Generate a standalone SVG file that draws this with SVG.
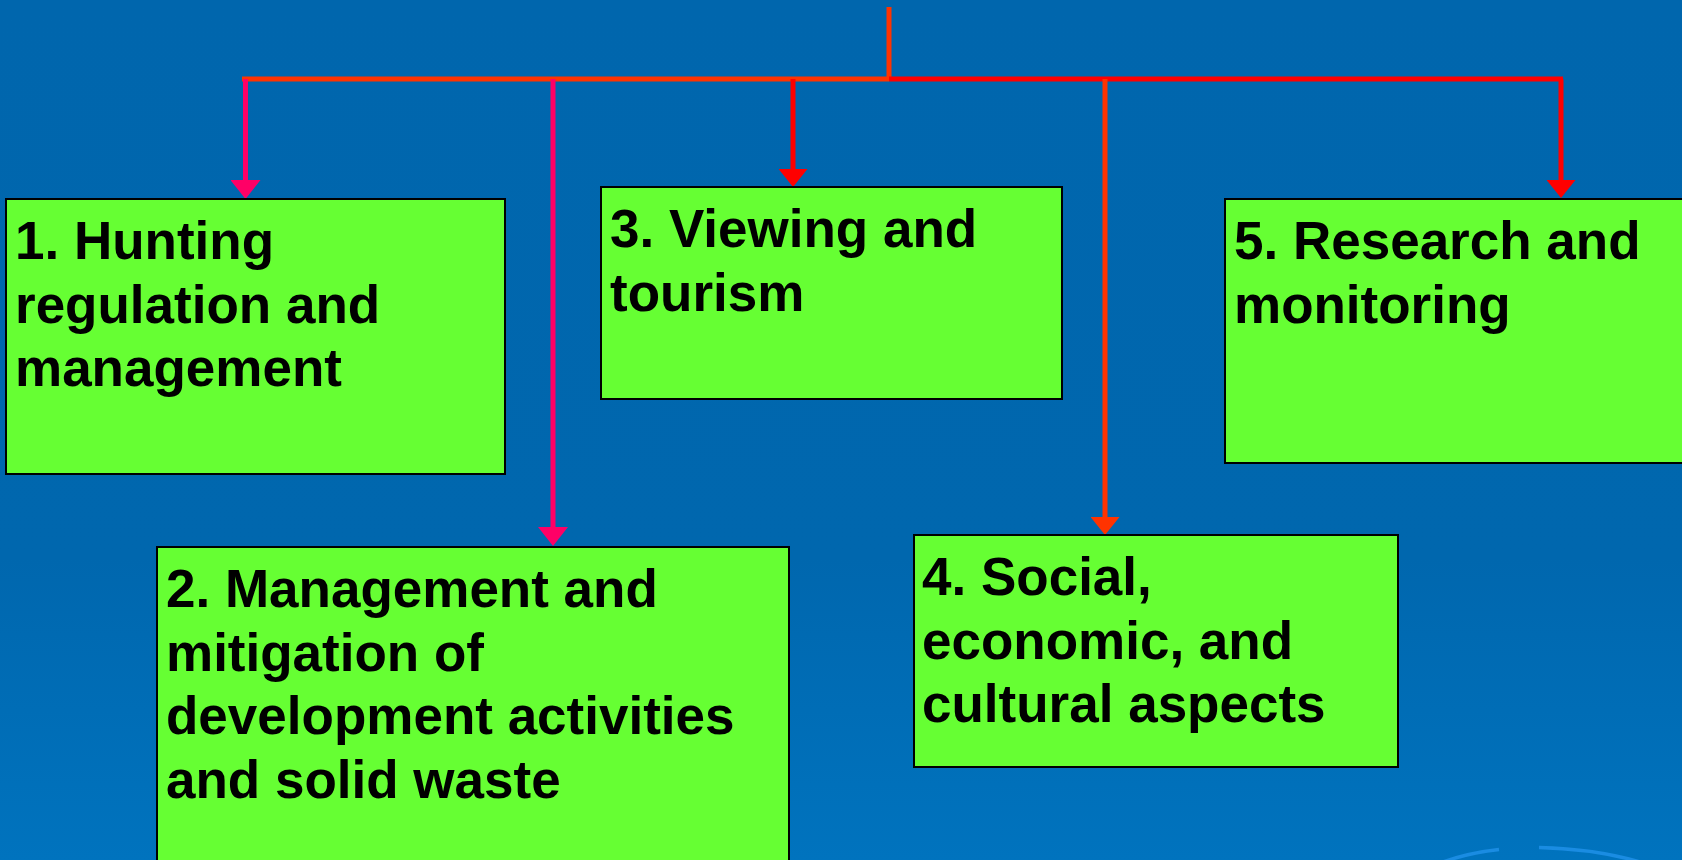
<svg xmlns="http://www.w3.org/2000/svg" width="1682" height="860" viewBox="0 0 1682 860">
  <defs>
    <linearGradient id="bg" x1="0" y1="0" x2="0" y2="1">
      <stop offset="0" stop-color="#0066AD"/>
      <stop offset="0.65" stop-color="#0067AE"/>
      <stop offset="1" stop-color="#0073BE"/>
    </linearGradient>
    <marker id="ah-pink" markerUnits="userSpaceOnUse" viewBox="0 0 19 30" refX="9" refY="15" markerWidth="19" markerHeight="30" orient="auto">
      <path d="M0,0 L19,15 L0,30 Z" fill="#FF0066"/>
    </marker>
    <marker id="ah-red" markerUnits="userSpaceOnUse" viewBox="0 0 18 29" refX="8" refY="14.5" markerWidth="18" markerHeight="29" orient="auto">
      <path d="M0,0 L18,14.5 L0,29 Z" fill="#FF0000"/>
    </marker>
    <marker id="ah-orange" markerUnits="userSpaceOnUse" viewBox="0 0 18 29" refX="8" refY="14.5" markerWidth="18" markerHeight="29" orient="auto">
      <path d="M0,0 L18,14.5 L0,29 Z" fill="#FF3300"/>
    </marker>
  </defs>
  <style>
    .box { fill: #66FF33; stroke: #000000; stroke-width: 2; }
    .lbl { font-family: "Liberation Sans", Arial, sans-serif; font-weight: bold; font-size: 53px; fill: #000000; }
    .c { fill: none; stroke-width: 5; stroke-linecap: butt; }
    .pink { stroke: #FF0066; }
    .red { stroke: #FF0000; }
    .orange { stroke: #FF3300; }
    .deco { fill: none; stroke: #1A8CE2; stroke-width: 3.5; }
  </style>

  <rect x="0" y="0" width="1682" height="860" fill="url(#bg)"/>
  <path class="deco" d="M1443,862 Q1468,853 1499,849.5"/>
  <path class="deco" d="M1539,847.5 Q1596,849 1640,862"/>

  <g id="connectors">
    <line class="c orange" x1="889" y1="7" x2="889" y2="79" stroke-width="4.5"/>
    <line class="c orange" x1="242" y1="79" x2="889" y2="79"/>
    <line class="c red" x1="889" y1="79" x2="1563" y2="79"/>
    <line class="c pink" x1="245.5" y1="79" x2="245.5" y2="189" marker-end="url(#ah-pink)"/>
    <line class="c pink" x1="553" y1="79" x2="553" y2="536" marker-end="url(#ah-pink)"/>
    <line class="c red" x1="793" y1="79" x2="793" y2="177" marker-end="url(#ah-red)"/>
    <line class="c orange" x1="1105" y1="79" x2="1105" y2="525" marker-end="url(#ah-orange)"/>
    <line class="c red" x1="1561" y1="79" x2="1561" y2="188" marker-end="url(#ah-red)"/>
  </g>

  <g id="node1">
    <rect class="box" x="6" y="199" width="499" height="275"/>
    <text class="lbl" x="15" y="259">1. Hunting</text>
    <text class="lbl" x="15" y="322.5">regulation and</text>
    <text class="lbl" x="15" y="386">management</text>
  </g>

  <g id="node2">
    <rect class="box" x="157" y="547" width="632" height="330"/>
    <text class="lbl" x="166" y="607">2. Management and</text>
    <text class="lbl" x="166" y="670.5">mitigation of</text>
    <text class="lbl" x="166" y="734">development activities</text>
    <text class="lbl" x="166" y="797.5">and solid waste</text>
  </g>

  <g id="node3">
    <rect class="box" x="601" y="187" width="461" height="212"/>
    <text class="lbl" x="610" y="247">3. Viewing and</text>
    <text class="lbl" x="610" y="310.5">tourism</text>
  </g>

  <g id="node4">
    <rect class="box" x="914" y="535" width="484" height="232"/>
    <text class="lbl" x="922" y="595">4. Social,</text>
    <text class="lbl" x="922" y="658.5">economic, and</text>
    <text class="lbl" x="922" y="722">cultural aspects</text>
  </g>

  <g id="node5">
    <rect class="box" x="1225" y="199" width="480" height="264"/>
    <text class="lbl" x="1234" y="259">5. Research and</text>
    <text class="lbl" x="1234" y="322.5">monitoring</text>
  </g>
</svg>
